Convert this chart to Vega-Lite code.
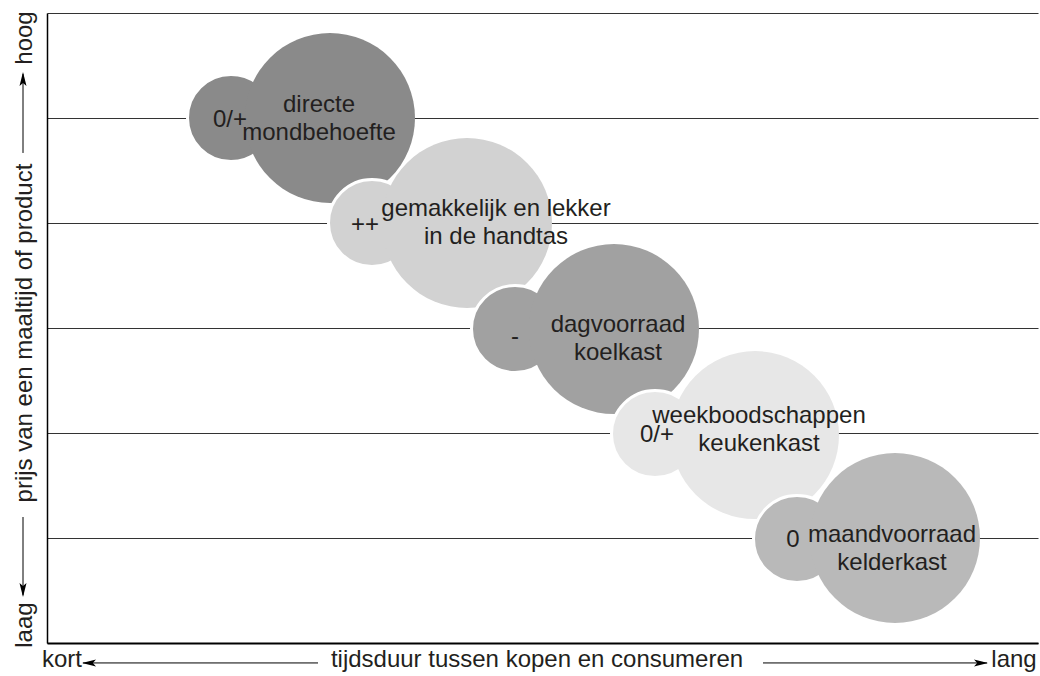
{
  "$schema": "https://vega.github.io/schema/vega-lite/v6.json",
  "width": 991,
  "height": 630,
  "autosize": {"type": "none"},
  "padding": {"left": 47, "top": 13, "right": 2, "bottom": 33},
  "background": "white",
  "config": {"view": {"stroke": null}, "font": "Liberation Sans"},
  "datasets": {
    "cirkels": [
      {"groep": "mondbehoefte", "soort": "klein", "x": 184, "y": 5.0, "straal": 43.5},
      {"groep": "mondbehoefte", "soort": "groot", "x": 283, "y": 5.0, "straal": 85},
      {"groep": "handtas", "soort": "klein", "x": 325, "y": 4.0, "straal": 43.5},
      {"groep": "handtas", "soort": "groot", "x": 420, "y": 4.0, "straal": 85},
      {"groep": "koelkast", "soort": "klein", "x": 468, "y": 2.99, "straal": 43.5},
      {"groep": "koelkast", "soort": "groot", "x": 567, "y": 2.99, "straal": 85},
      {"groep": "keukenkast", "soort": "klein", "x": 608, "y": 1.99, "straal": 43.5},
      {"groep": "keukenkast", "soort": "groot", "x": 708, "y": 1.98, "straal": 84},
      {"groep": "kelderkast", "soort": "klein", "x": 750, "y": 0.99, "straal": 43.5},
      {"groep": "kelderkast", "soort": "groot", "x": 848, "y": 1.0, "straal": 85}
    ],
    "labels": [
      {"tekst": "0/+", "x": 183, "y": 4.914},
      {"tekst": "directe\nmondbehoefte", "x": 272, "y": 5.057},
      {"tekst": "++", "x": 318, "y": 3.914},
      {"tekst": "gemakkelijk en lekker\nin de handtas", "x": 449, "y": 4.067},
      {"tekst": "-", "x": 468, "y": 2.848},
      {"tekst": "dagvoorraad\nkoelkast", "x": 571, "y": 2.962},
      {"tekst": "0/+", "x": 610, "y": 1.914},
      {"tekst": "weekboodschappen\nkeukenkast", "x": 712, "y": 2.095},
      {"tekst": "0", "x": 746, "y": 0.914},
      {"tekst": "maandvoorraad\nkelderkast", "x": 845, "y": 0.962}
    ],
    "pijlen": [
      {"x": 36, "x2": 271, "y": -0.19, "y2": -0.19},
      {"x": 716, "x2": 940, "y": -0.19, "y2": -0.19},
      {"x": -24, "x2": -24, "y": 4.667, "y2": 5.42},
      {"x": -24, "x2": -24, "y": 1.2, "y2": 0.455}
    ],
    "pijlpunten": [
      {"richting": "links", "x": 42, "y": -0.19},
      {"richting": "rechts", "x": 934, "y": -0.19},
      {"richting": "omhoog", "x": -24, "y": 5.371},
      {"richting": "omlaag", "x": -24, "y": 0.505}
    ],
    "xtekst": [
      {"tekst": "kort", "x": 15, "y": -0.229},
      {"tekst": "tijdsduur tussen kopen en consumeren", "x": 490, "y": -0.229},
      {"tekst": "lang", "x": 967, "y": -0.229}
    ],
    "ytekst": [
      {"tekst": "hoog", "x": -15, "y": 5.762},
      {"tekst": "prijs van een maaltijd of product", "x": -15, "y": 2.952},
      {"tekst": "laag", "x": -15, "y": 0.171}
    ]
  },
  "encoding": {
    "x": {
      "field": "x", "type": "quantitative",
      "scale": {"domain": [0, 991], "nice": false, "zero": false},
      "axis": {"title": null, "labels": false, "ticks": false, "grid": false, "domain": true, "domainColor": "#000000", "domainWidth": 2}
    },
    "y": {
      "field": "y", "type": "quantitative",
      "scale": {"domain": [0, 6], "nice": false, "zero": false},
      "axis": {"title": null, "labels": false, "ticks": false, "values": [0, 1, 2, 3, 4, 5, 6], "grid": true, "gridColor": "#333333", "gridWidth": 1, "gridOpacity": 1, "domain": true, "domainColor": "#000000", "domainWidth": 1.5}
    }
  },
  "layer": [
    {
      "data": {"name": "cirkels"},
      "mark": {"type": "circle", "opacity": 1, "stroke": "white"},
      "encoding": {
        "size": {"field": "straal", "type": "quantitative", "scale": {"type": "pow", "exponent": 2, "domain": [0, 100], "range": [0, 40000]}, "legend": null},
        "color": {"field": "groep", "type": "nominal", "scale": {"domain": ["mondbehoefte", "handtas", "koelkast", "keukenkast", "kelderkast"], "range": ["#8a8a8a", "#d2d2d2", "#a1a1a1", "#e7e7e7", "#b9b9b9"]}, "legend": null},
        "strokeWidth": {"condition": {"test": "datum.soort === 'klein'", "value": 3}, "value": 0},
        "order": {"field": "x", "type": "quantitative"}
      }
    },
    {
      "data": {"name": "labels"},
      "mark": {"type": "text", "align": "center", "baseline": "alphabetic", "fontSize": 24, "lineHeight": 28, "lineBreak": "\n", "color": "#231f20"},
      "encoding": {"text": {"field": "tekst", "type": "nominal"}}
    },
    {
      "data": {"name": "pijlen"},
      "mark": {"type": "rule", "color": "#000000", "strokeWidth": 1},
      "encoding": {"x2": {"field": "x2"}, "y2": {"field": "y2"}}
    },
    {
      "data": {"name": "pijlpunten"},
      "mark": {"type": "point", "filled": true, "opacity": 1, "size": 196, "color": "#000000", "strokeWidth": 0},
      "encoding": {
        "shape": {"field": "richting", "type": "nominal", "legend": null, "scale": {"domain": ["links", "rechts", "omhoog", "omlaag"], "range": ["M-1,0L1,-0.5L0.55,0L1,0.5Z", "M1,0L-1,-0.5L-0.55,0L-1,0.5Z", "M0,-1L-0.5,1L0,0.55L0.5,1Z", "M0,1L-0.5,-1L0,-0.55L0.5,-1Z"]}}
      }
    },
    {
      "data": {"name": "xtekst"},
      "mark": {"type": "text", "align": "center", "baseline": "alphabetic", "fontSize": 24, "color": "#231f20"},
      "encoding": {"text": {"field": "tekst", "type": "nominal"}}
    },
    {
      "data": {"name": "ytekst"},
      "mark": {"type": "text", "align": "center", "baseline": "alphabetic", "fontSize": 24, "angle": 270, "color": "#231f20"},
      "encoding": {"text": {"field": "tekst", "type": "nominal"}}
    }
  ]
}
